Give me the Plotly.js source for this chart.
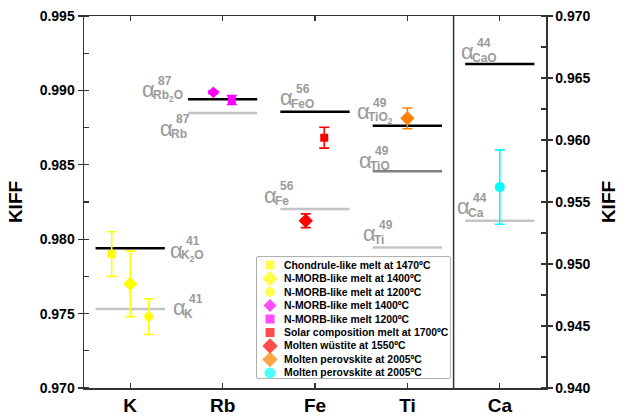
<!DOCTYPE html>
<html>
<head>
<meta charset="utf-8">
<script src="https://cdn.plot.ly/plotly-3.0.1.min.js"></script>
<style>html,body{margin:0;padding:0;background:#fff;}#chart{width:623px;height:420px;}</style>
</head>
<body>
<div id="chart"></div>
<script>
// ---------------- DATA ----------------
const categories = ['K', 'Rb', 'Fe', 'Ti', 'Ca'];

// theoretical reference lines (alpha values)
const refCats    = ['K', 'K', 'Rb', 'Rb', 'Fe', 'Fe', 'Ti', 'Ti', 'Ti', 'Ca', 'Ca'];
const refValues  = [0.97939, 0.97531, 0.98940, 0.98848, 0.98857, 0.98203, 0.98763, 0.98456, 0.97945, 0.96613, 0.95349];
const refKinds   = ['oxide', 'metal', 'oxide', 'metal', 'oxide', 'metal', 'oxide', 'mono', 'metal', 'oxide', 'metal'];
const refMass    = ['41', '41', '87', '87', '56', '56', '49', '49', '49', '44', '44'];
const refSpecies = ['K<sub>2</sub>O', 'K', 'Rb<sub>2</sub>O', 'Rb', 'FeO', 'Fe', 'TiO<sub>2</sub>', 'TiO', 'Ti', 'CaO', 'Ca'];

// measured KIFF values
const seriesNames = [
  'Chondrule-like melt at 1470\u00baC',
  'N-MORB-like melt at 1400\u00baC',
  'N-MORB-like melt at 1200\u00baC',
  'N-MORB-like melt 1400\u00baC',
  'N-MORB-like melt 1200\u00baC',
  'Solar composition melt at 1700\u00baC',
  'Molten w\u00fcstite at 1550\u00baC',
  'Molten perovskite at 2005\u00baC',
  'Molten perovskite at 2005\u00baC'
];
const seriesCats   = ['K', 'K', 'K', 'Rb', 'Rb', 'Fe', 'Fe', 'Ti', 'Ca'];
const seriesValues = [0.9790, 0.9770, 0.9748, 0.98987, 0.98935, 0.98682, 0.98124, 0.98812, 0.9562];
const seriesErrors = [0.0015, 0.0022, 0.0012, 0.0001, 0.0003, 0.0007, 0.00046, 0.0007, 0.0030];

// ---------------- STYLE ----------------
const FONT = 'Arial, "Liberation Sans", sans-serif';
const seriesColors  = ['#FFFF00', '#FFFF00', '#FFFF00', '#FF00FF', '#FF00FF', '#FF0000', '#FF0000', '#FF7F00', '#00FFFF'];
const seriesSymbols = ['square', 'diamond', 'circle', 'diamond', 'square', 'square', 'diamond', 'diamond', 'circle'];
const seriesSizes   = [8, 11, 9, 9, 8, 8, 11, 11, 10];
const seriesOffsets = [-0.2, 0, 0.2, -0.1, 0.1, 0.1, -0.1, 0, 0];
const lineHalf = 0.375;
const kindColor = {oxide: '#000000', metal: '#C4C4C4', mono: '#808080'};
const labelGray = '#9A9A9A';
// label anchor positions (x in category units, y in axis units)
const labelX = [1.425, 1.448, 1.122, 1.317, 2.605, 2.442, 3.449, 3.460, 3.514, 4.574, 4.531];
const labelY = [0.97927, 0.97538, 0.99003, 0.98747, 0.98949, 0.98297, 0.98855, 0.98532, 0.98035, 0.96710, 0.95460];

const catIndex = c => categories.indexOf(c) + 1;
const axisFor = c => (c === 'Ca' ? 'y2' : 'y');

const traces = [];
// reference lines
refValues.forEach((v, i) => {
  const cx = catIndex(refCats[i]);
  traces.push({
    x: [cx - lineHalf, cx + lineHalf], y: [v, v],
    yaxis: axisFor(refCats[i]), mode: 'lines', showlegend: false, hoverinfo: 'skip',
    line: {color: kindColor[refKinds[i]], width: 2.5}
  });
});
// measured points
seriesValues.forEach((v, i) => {
  traces.push({
    x: [catIndex(seriesCats[i]) + seriesOffsets[i]], y: [v],
    yaxis: axisFor(seriesCats[i]), mode: 'markers', name: seriesNames[i], showlegend: false,
    marker: {color: seriesColors[i], symbol: seriesSymbols[i], size: seriesSizes[i], line: {width: 0}},
    error_y: {type: 'data', array: [seriesErrors[i]], visible: true, color: seriesColors[i], thickness: 1.6, width: 5},
    cliponaxis: false
  });
});
// custom legend markers
traces.push({
  x: seriesNames.map(() => 0), y: seriesNames.map((_, i) => i),
  xaxis: 'x3', yaxis: 'y3', mode: 'markers', showlegend: false, hoverinfo: 'skip',
  marker: {color: seriesColors, symbol: seriesSymbols, size: seriesSizes.map(s => s + 1), line: {width: 0}},
  cliponaxis: false
});

const annotations = [];
refValues.forEach((v, i) => {
  const yref = axisFor(refCats[i]);
  const base = {x: labelX[i], y: labelY[i], xref: 'x', yref: yref, showarrow: false, xanchor: 'left', yanchor: 'middle', borderpad: 0};
  annotations.push(Object.assign({}, base, {text: '\u03b1', font: {family: FONT, size: 22, color: labelGray}}));
  annotations.push(Object.assign({}, base, {text: refMass[i], xshift: 16, yshift: 9, font: {family: FONT, size: 12, color: labelGray, weight: 'bold'}}));
  annotations.push(Object.assign({}, base, {text: refSpecies[i], xshift: 11, yshift: -6, font: {family: FONT, size: 12, color: labelGray, weight: 'bold'}}));
});
seriesNames.forEach((n, i) => {
  annotations.push({x: 0.068, y: i, xref: 'x3', yref: 'y3', text: n, showarrow: false, xanchor: 'left', yanchor: 'middle', borderpad: 0,
    font: {family: FONT, size: 10.4, color: '#000', weight: 'bold'}});
});

const axisLine = '#333333';
const layout = {
  width: 623, height: 420,
  margin: {l: 84, r: 77, t: 16, b: 32},
  paper_bgcolor: '#fff', plot_bgcolor: '#fff',
  font: {family: FONT, color: '#000'},
  showlegend: false,
  xaxis: {
    range: [0.5, 5.5], tickvals: categories.map((c, i) => i + 1), ticktext: categories,
    showgrid: false, zeroline: false, showline: true, linecolor: axisLine, linewidth: 1.5, mirror: 'ticks',
    ticks: 'inside', ticklen: 5, tickwidth: 1.2, tickcolor: axisLine,
    tickfont: {family: FONT, size: 19, weight: 'bold'}
  },
  yaxis: {
    range: [0.970, 0.995], dtick: 0.005, tick0: 0.970, tickformat: '.3f',
    showgrid: false, zeroline: false, showline: true, linecolor: axisLine, linewidth: 1.5,
    ticks: 'outside', ticklen: 5, tickwidth: 1.2, tickcolor: axisLine,
    minor: {dtick: 0.0025, ticks: 'inside', ticklen: 5, tickwidth: 1.2, tickcolor: axisLine, showgrid: false},
    tickfont: {family: FONT, size: 14, weight: 'bold'},
    title: {text: 'KIFF', font: {family: FONT, size: 19, weight: 'bold'}, standoff: 12}
  },
  yaxis2: {
    range: [0.940, 0.970], dtick: 0.005, tick0: 0.940, tickformat: '.3f', overlaying: 'y', side: 'right',
    showgrid: false, zeroline: false, showline: true, linecolor: axisLine, linewidth: 1.5,
    ticks: 'outside', ticklen: 5, tickwidth: 1.2, tickcolor: axisLine,
    minor: {dtick: 0.0025, ticks: 'inside', ticklen: 5, tickwidth: 1.2, tickcolor: axisLine, showgrid: false},
    tickfont: {family: FONT, size: 14, weight: 'bold'},
    title: {text: 'KIFF', font: {family: FONT, size: 19, weight: 'bold'}, standoff: 12}
  },
  xaxis3: {domain: [0.3745, 0.792], range: [-0.0674, 0.9326], anchor: 'y3', visible: false, fixedrange: true},
  yaxis3: {domain: [0.027, 0.352], range: [8.37, -0.593], anchor: 'x3', visible: false, fixedrange: true},
  shapes: [
    {type: 'line', xref: 'x', yref: 'paper', x0: 4.5, x1: 4.5, y0: 0, y1: 1, line: {color: axisLine, width: 1.5}},
    {type: 'rect', xref: 'paper', yref: 'paper', x0: 0.3745, x1: 0.792, y0: 0.027, y1: 0.352,
     line: {color: '#555', width: 1}, fillcolor: '#fff', layer: 'below'}
  ],
  annotations: annotations
};

Plotly.newPlot('chart', traces, layout, {staticPlot: true, displayModeBar: false});
</script>
</body>
</html>
